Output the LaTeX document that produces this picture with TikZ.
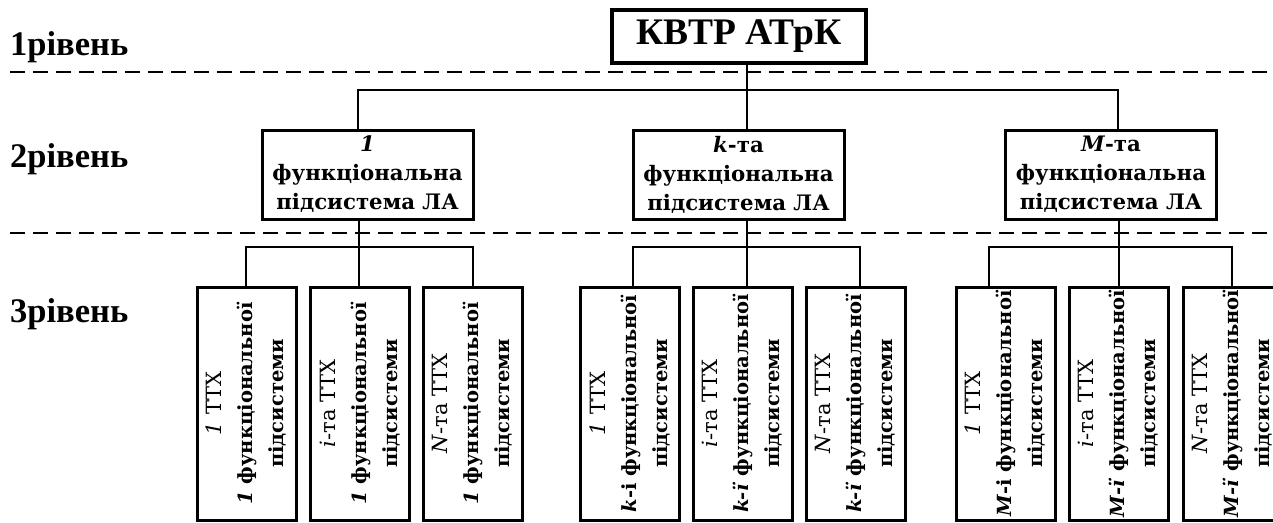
\documentclass[tikz,border=0pt]{standalone}
\usepackage{fontspec}
\setmainfont{Liberation Serif}
\newfontfamily\dvs{DejaVu Serif}
\begin{document}
\begin{tikzpicture}[x=1pt,y=-1pt,
  conn/.style={line width=2.8pt},
  sep/.style={line width=2.2pt,dash pattern=on 15pt off 8pt},
  lvl/.style={anchor=base west,inner sep=0pt,font=\bfseries\fontsize{34.5}{34}\selectfont},
  topbox/.style={draw,line width=4.2pt,minimum width=254pt,minimum height=53pt,inner sep=0pt,font=\bfseries\fontsize{37.5}{37}\selectfont},
  midbox/.style={draw,line width=3pt,minimum width=211pt,minimum height=89pt,inner sep=0pt,align=center,font=\dvs\bfseries\fontsize{21.3}{29}\selectfont},
  lowbox/.style={draw,line width=3pt,rotate=90,minimum width=233pt,minimum height=99pt,inner sep=0pt,align=center,font=\dvs\fontsize{19.5}{31}\selectfont},
]
\useasboundingbox (0,0) rectangle (1273,522);
\begin{scope}
\clip (0,0) rectangle (1273,522);

% level labels
\node[lvl] (l1) at (10,55) {1рівень};
\node[lvl] (l2) at (10,167) {2рівень};
\node[lvl] (l3) at (10,322) {3рівень};

% separators
\coordinate (s1a) at (10,72);
\coordinate (s1b) at (1273,72);
\coordinate (s2a) at (10,233);
\coordinate (s2b) at (1273,233);
\draw[sep] (s1a) -- (s1b);
\draw[sep] (s2a) -- (s2b);

% top box
\node[topbox,fill=white] (top) at (739,36.5) {КВТР АТрК};

% level 2 boxes
\node[midbox] (A) at (367.5,174.5) {\textit{1}\\функціональна\\підсистема ЛА};
\node[midbox] (B) at (738.5,174.5) {\textit{k}-та\\функціональна\\підсистема ЛА};
\node[midbox] (C) at (1111,174.5) {\textit{M}-та\\функціональна\\підсистема ЛА};

% level 1 -> level 2
\coordinate (ta) at (358,90);
\coordinate (tb) at (747,90);
\coordinate (tc) at (1118,90);
\draw[conn] (A.north -| ta) -- (ta) -- (tc) -- (C.north -| tc);
\draw[conn] (top.south -| tb) -- (B.north -| tb);

% level 3 boxes
\newcommand{\lone}[1]{{\fontsize{21}{31}\selectfont #1}}
\newcommand{\ltwo}[1]{{\bfseries #1}}
\node[lowbox] (A1) at (246.5,403.5) {\lone{\textit{1} ТТХ}\\\ltwo{\textit{1} функціональної}\\\ltwo{підсистеми}};
\node[lowbox] (A2) at (360,403.5) {\lone{\textit{i}-та ТТХ}\\\ltwo{\textit{1} функціональної}\\\ltwo{підсистеми}};
\node[lowbox] (A3) at (472.5,403.5) {\lone{\textit{N}-та ТТХ}\\\ltwo{\textit{1} функціональної}\\\ltwo{підсистеми}};
\node[lowbox] (B1) at (630,403.5) {\lone{\textit{1} ТТХ}\\\ltwo{\textit{k}-і функціональної}\\\ltwo{підсистеми}};
\node[lowbox] (B2) at (742.5,403.5) {\lone{\textit{i}-та ТТХ}\\\ltwo{\textit{k-ї} функціональної}\\\ltwo{підсистеми}};
\node[lowbox] (B3) at (855.5,403.5) {\lone{\textit{N}-та ТТХ}\\\ltwo{\textit{k-ї} функціональної}\\\ltwo{підсистеми}};
\node[lowbox] (C1) at (1005.5,403.5) {\lone{\textit{1} ТТХ}\\\ltwo{\textit{M}-і функціональної}\\\ltwo{підсистеми}};
\node[lowbox] (C2) at (1118.5,403.5) {\lone{\textit{i}-та ТТХ}\\\ltwo{\textit{M-ї} функціональної}\\\ltwo{підсистеми}};
\node[lowbox] (C3) at (1232.5,403.5) {\lone{\textit{N}-та ТТХ}\\\ltwo{\textit{M-ї} функціональної}\\\ltwo{підсистеми}};

% level 2 -> level 3
\coordinate (a1) at (246,247); \coordinate (a2) at (359,247); \coordinate (a3) at (473,247);
\coordinate (b1) at (633,247); \coordinate (b2) at (747,247); \coordinate (b3) at (860,247);
\coordinate (c1) at (989,247); \coordinate (c2) at (1119,247); \coordinate (c3) at (1232,247);
\draw[conn] (A.south -| a2) -- (a2 |- A2.east);
\draw[conn] (a1 |- A1.east) -- (a1) -- (a3) -- (a3 |- A3.east);
\draw[conn] (B.south -| b2) -- (b2 |- B2.east);
\draw[conn] (b1 |- B1.east) -- (b1) -- (b3) -- (b3 |- B3.east);
\draw[conn] (C.south -| c2) -- (c2 |- C2.east);
\draw[conn] (c1 |- C1.east) -- (c1) -- (c3) -- (c3 |- C3.east);
\end{scope}
\end{tikzpicture}
\end{document}
